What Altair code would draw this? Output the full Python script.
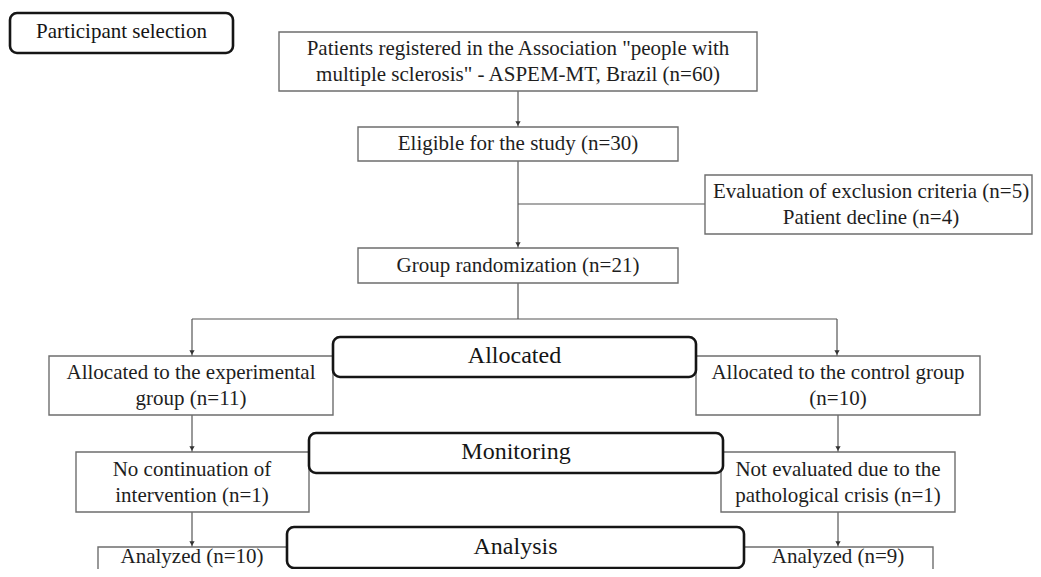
import altair as alt
import pandas as pd

# ---- data ----
stages = ["Participant selection", "Allocated", "Monitoring", "Analysis"]
n_registered = 60
n_eligible = 30
n_excl_criteria = 5
n_declined = 4
n_randomized = 21
n_exp, n_ctrl = 11, 10
n_exp_lost, n_ctrl_lost = 1, 1
n_exp_analyzed, n_ctrl_analyzed = 10, 9

# node texts (list of lines per node)
node_text = {
    "registered": ['Patients registered in the Association "people with',
                   f'multiple sclerosis" - ASPEM-MT, Brazil (n={n_registered})'],
    "eligible": [f"Eligible  for the study (n={n_eligible})"],
    "excluded": [f"Evaluation of exclusion criteria (n={n_excl_criteria})",
                 f"Patient decline (n={n_declined})"],
    "random": [f"Group randomization (n={n_randomized})"],
    "exp": ["Allocated to the experimental", f"group (n={n_exp})"],
    "ctrl": ["Allocated to the control group", f"(n={n_ctrl})"],
    "exp_lost": ["No continuation of", f"intervention (n={n_exp_lost})"],
    "ctrl_lost": ["Not evaluated due to the", f"pathological crisis (n={n_ctrl_lost})"],
    "exp_an": [f"Analyzed (n={n_exp_analyzed})"],
    "ctrl_an": [f"Analyzed (n={n_ctrl_analyzed})"],
}

# ---- layout (diagram geometry, page pixel coordinates) ----
# (x1, x2, y1, y2, text centre x, text centre y)
box_layout = {
    "registered": (279, 757, 32, 91, 518, 62),
    "eligible": (358, 678, 127, 161, 518, 144),
    "excluded": (705, 1032, 175, 234, 871, 205),
    "random": (358, 678, 248, 283, 518, 265.5),
    "exp": (49, 333, 356, 415, 191, 386),
    "ctrl": (696, 980, 356, 415, 838, 386),
    "exp_lost": (76, 309, 452, 512, 192, 483),
    "ctrl_lost": (721, 955, 452, 512, 838, 483),
    "exp_an": (98, 300, 547, 600, 192, 557),
    "ctrl_an": (735, 933, 547, 600, 838, 557),
}
stage_layout = {
    "Participant selection": (10, 233, 13, 53),
    "Allocated": (333, 696, 337, 377),
    "Monitoring": (309, 723, 433, 473),
    "Analysis": (287, 744, 527, 568),
}
line_h = 26.5

rows_box, rows_txt = [], []
for k, (x1, x2, y1, y2, cx, cy) in box_layout.items():
    rows_box.append(dict(x=x1, x2=x2, y=y1, y2=y2))
    lines = node_text[k]
    n = len(lines)
    for i, t in enumerate(lines):
        rows_txt.append(dict(x=cx, y=cy + (i - (n - 1) / 2) * line_h, t=t))

rows_stage, rows_stage_txt = [], []
for s in stages:
    x1, x2, y1, y2 = stage_layout[s]
    rows_stage.append(dict(x=x1, x2=x2, y=y1, y2=y2))
    rows_stage_txt.append(dict(x=(x1 + x2) / 2, y=(y1 + y2) / 2 - 1, t=s,
                               fs=21 if s == "Participant selection" else 24))

rules = pd.DataFrame([
    dict(x=518, x2=518, y=91, y2=127),
    dict(x=518, x2=518, y=161, y2=248),
    dict(x=518, x2=705, y=204, y2=204),
    dict(x=518, x2=518, y=283, y2=319),
    dict(x=192, x2=837, y=319, y2=319),
    dict(x=192, x2=192, y=319, y2=356),
    dict(x=837, x2=837, y=319, y2=356),
    dict(x=192, x2=192, y=415, y2=452),
    dict(x=838, x2=838, y=415, y2=452),
    dict(x=192, x2=192, y=512, y2=547),
    dict(x=838, x2=838, y=512, y2=547),
])
arrow_tips = pd.DataFrame([
    dict(x=518, y=123.5), dict(x=518, y=244.5), dict(x=192, y=352.5),
    dict(x=837, y=352.5), dict(x=192, y=448.5), dict(x=838, y=448.5),
    dict(x=192, y=543.5), dict(x=838, y=543.5),
])

W, H = 1025, 561
xs = alt.Scale(domain=[8, 8 + W], nice=False, zero=False)
ys = alt.Scale(domain=[8, 8 + H], nice=False, zero=False, reverse=True)
X = lambda f="x": alt.X(f"{f}:Q", scale=xs, axis=None)
Y = lambda f="y": alt.Y(f"{f}:Q", scale=ys, axis=None)

rule_layer = alt.Chart(rules).mark_rule(color="#555555", strokeWidth=1.2).encode(
    x=X(), x2="x2:Q", y=Y(), y2="y2:Q")

box_layer = alt.Chart(pd.DataFrame(rows_box)).mark_rect(
    fill="white", stroke="#6e6e6e", strokeWidth=1.4, clip=True).encode(
    x=X(), x2="x2:Q", y=Y(), y2="y2:Q")

stage_layer = alt.Chart(pd.DataFrame(rows_stage)).mark_rect(
    fill="white", stroke="#151515", strokeWidth=2.6, cornerRadius=7).encode(
    x=X(), x2="x2:Q", y=Y(), y2="y2:Q")

arrow_layer = alt.Chart(arrow_tips).mark_point(
    shape="triangle-down", filled=True, color="#333333", size=28, opacity=1).encode(
    x=X(), y=Y())

txt_layer = alt.Chart(pd.DataFrame(rows_txt)).mark_text(
    font="Liberation Serif", fontSize=21, color="#1e1e1e", baseline="middle",
    align="center").encode(x=X(), y=Y(), text="t:N")

stage_txt_layer = alt.Chart(pd.DataFrame(rows_stage_txt)).mark_text(
    font="Liberation Serif", color="#151515", baseline="middle",
    align="center").encode(x=X(), y=Y(), text="t:N",
                           size=alt.Size("fs:Q", scale=None, legend=None))

chart = alt.layer(rule_layer, box_layer, stage_layer, arrow_layer,
                  txt_layer, stage_txt_layer).properties(
    width=W, height=H, padding=0, autosize=alt.AutoSizeParams(type="none"),
    background="white").configure_view(stroke=None)

chart.save("out.html", embed_options={"renderer": "svg", "actions": False})
